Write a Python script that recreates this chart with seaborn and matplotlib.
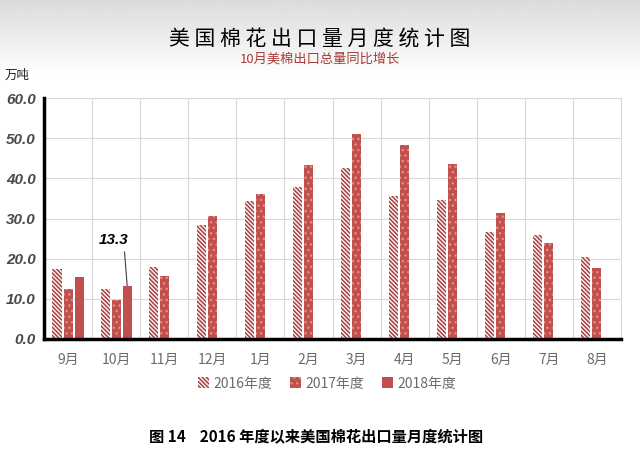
import numpy as np
import pandas as pd
import seaborn as sns
import matplotlib.pyplot as plt

# data (万吨)
months = ['9月', '10月', '11月', '12月', '1月', '2月', '3月', '4月', '5月', '6月', '7月', '8月']
years = ['2016年度', '2017年度', '2018年度']
v2016 = [17.4, 12.5, 18.0, 28.4, 34.3, 37.8, 42.5, 35.6, 34.6, 26.7, 25.9, 20.4]
v2017 = [12.5, 9.8, 15.7, 30.5, 36.0, 43.3, 51.0, 48.2, 43.6, 31.3, 23.8, 17.7]
v2018 = [15.5, 13.3, np.nan, np.nan, np.nan, np.nan, np.nan, np.nan, np.nan, np.nan, np.nan, np.nan]

df = pd.DataFrame({'month': months * 3,
                   'year': np.repeat(years, len(months)),
                   'value': v2016 + v2017 + v2018})

sns.set_theme(style='white')
plt.rcParams['font.family'] = ['Noto Sans CJK SC', 'DejaVu Sans']
plt.rcParams['hatch.linewidth'] = 1.0

red = '#C0504D'
fig = plt.figure(figsize=(6.4, 4.67), dpi=100)

# grey gradient band at the top
bg = fig.add_axes([0, 1 - 75 / 467, 1, 75 / 467], zorder=-5)
grad = np.linspace(0.86, 1.0, 100).reshape(-1, 1)
bg.imshow(grad, aspect='auto', cmap='gray', vmin=0, vmax=1, extent=[0, 1, 0, 1], origin='upper')
bg.axis('off')

ax = fig.add_axes([44 / 640, 1 - 339 / 467, 577 / 640, 241 / 467])
sns.barplot(data=df, x='month', y='value', hue='year', order=months, hue_order=years,
            palette=[red, red, red], width=0.69, gap=0.18, legend=False, ax=ax, zorder=3)

styles = [dict(facecolor='#FBEAEA', edgecolor='#9E3B38', hatch='\\' * 8),
          dict(facecolor=red, edgecolor='#DE8F8C', hatch='...'),
          dict(facecolor=red, edgecolor=red, hatch=None)]
for cont, st in zip(ax.containers, styles):
    for p in cont.patches:
        p.set_facecolor(st['facecolor'])
        p.set_edgecolor(st['edgecolor'])
        p.set_hatch(st['hatch'])
        p.set_linewidth(0)

ax.set_xlim(-0.5, len(months) - 0.5)
ax.set_ylim(0, 60)
ax.set_yticks(np.arange(0, 61, 10))
ax.set_yticklabels([f'{t:.1f}' for t in np.arange(0, 61, 10)],
                   fontfamily='Liberation Sans', fontweight='bold', fontstyle='italic',
                   fontsize=11, color='#4A4A4A')
ax.set_xticks(range(len(months)))
ax.set_xticklabels(months, fontsize=10, color='#6B6B6B')
ax.set_xticks(np.arange(-0.5, len(months), 1), minor=True)
ax.tick_params(axis='both', which='both', length=0)
ax.tick_params(axis='x', pad=10)
ax.tick_params(axis='y', pad=6)
ax.grid(False)
ax.yaxis.grid(True, color='#D9D9D9', lw=0.8, zorder=0)
ax.xaxis.grid(True, which='minor', color='#D9D9D9', lw=0.8, zorder=0)
ax.set_axisbelow(True)
ax.set_xlabel('')
ax.set_ylabel('')
for s in ['top', 'right']:
    ax.spines[s].set_color('#D9D9D9')
    ax.spines[s].set_linewidth(0.8)
for s in ['left', 'bottom']:
    ax.spines[s].set_color('black')
    ax.spines[s].set_linewidth(2.5)
    ax.spines[s].set_zorder(5)

# callout on the October 2018 bar
bar = ax.containers[2].patches[1]
bx = bar.get_x() + bar.get_width() / 2
ax.annotate('13.3', xy=(bx, v2018[1]), xytext=(0.95, 24.6),
            ha='center', va='center', fontfamily='Liberation Sans', fontweight='bold',
            fontstyle='italic', fontsize=11, color='black',
            arrowprops=dict(arrowstyle='-', color='#404040', lw=0.8,
                            relpos=(0.85, 0), shrinkA=1, shrinkB=0))

ax.legend(handles=ax.containers, labels=years, loc='center', bbox_to_anchor=(0.49, -0.185),
          ncol=3, frameon=False, fontsize=10, labelcolor='#6B6B6B',
          handlelength=0.8, handleheight=0.8, handletextpad=0.3, columnspacing=1.3)

fig.text(0.5, 1 - 39 / 467, ' '.join('美国棉花出口量月度统计图'), ha='center', va='center',
         fontsize=15, color='black')
fig.text(0.5, 1 - 59 / 467, '10月美棉出口总量同比增长', ha='center', va='center',
         fontsize=9.5, color='#A83A37', fontstyle='italic')
fig.text(5 / 640, 1 - 75 / 467, '万吨', ha='left', va='center', fontsize=9, color='#202020')
fig.text(0.494, 1 - 437 / 467, '图 14    2016 年度以来美国棉花出口量月度统计图', ha='center',
         va='center', fontsize=11, fontweight='bold', color='black')

fig.savefig('out.png', dpi=100)
